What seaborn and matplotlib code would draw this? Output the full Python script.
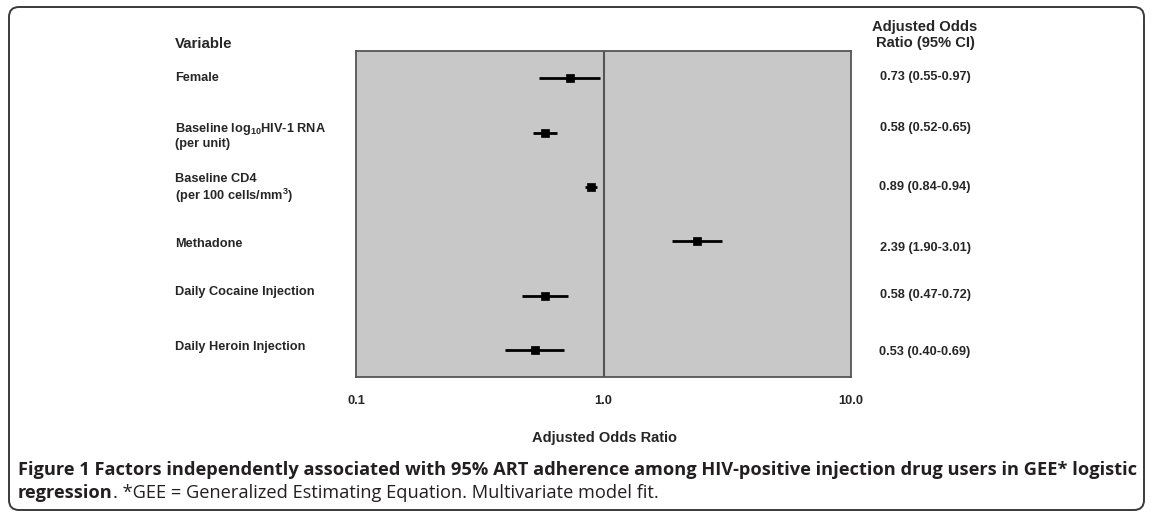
import numpy as np
import pandas as pd
import seaborn as sns
import matplotlib.pyplot as plt
from matplotlib.patches import FancyBboxPatch

variables = ["Female",
             "Baseline log$_{10}$HIV-1 RNA\n(per unit)",
             "Baseline CD4\n(per 100 cells/mm$^{3}$)",
             "Methadone",
             "Daily Cocaine Injection",
             "Daily Heroin Injection"]
odds = [0.73, 0.58, 0.89, 2.39, 0.58, 0.53]
ci_low = [0.55, 0.52, 0.84, 1.90, 0.47, 0.40]
ci_high = [0.97, 0.65, 0.94, 3.01, 0.72, 0.69]
xticks = [0.1, 1.0, 10.0]
xtick_labels = ["0.1", "1.0", "10.0"]

df = pd.DataFrame({"variable": variables, "odds": odds,
                   "low": ci_low, "high": ci_high})
df["row"] = np.arange(1, len(df) + 1)
df["label"] = [f"{o:.2f} ({l:.2f}-{h:.2f})" for o, l, h in zip(odds, ci_low, ci_high)]

# small vertical nudges (px) of the side texts, as in the original layout
label_shift = [0, 3, 2, 3, -4, -3]
value_shift = [-1, -4, 0, 7, -1, 2]

sns.set_style("white")
plt.rcParams["font.family"] = ["Liberation Sans", "DejaVu Sans"]
plt.rcParams["mathtext.default"] = "regular"

W, H = 1155, 522
fig = plt.figure(figsize=(W / 100, H / 100), dpi=100)

# background axes in pixel coordinates for frame and side texts
bg = fig.add_axes([0, 0, 1, 1], zorder=0)
bg.set_xlim(0, W)
bg.set_ylim(H, 0)
bg.axis("off")
bg.add_patch(FancyBboxPatch((9, 7), 1135, 503, boxstyle="round,pad=0,rounding_size=10",
                            fc="none", ec="#3a3a3a", lw=1.4))

ax = fig.add_axes([356 / W, 1 - 377 / H, (851 - 356) / W, (377 - 51) / H], zorder=1)
ax.set_facecolor("#c8c8c8")
ax.set_xscale("log")
ax.set_xlim(0.1, 10)
ax.set_ylim(6.5, 0.5)

ax.axvline(1.0, color="#555555", lw=1.5, zorder=1)
ax.hlines(df["row"], df["low"], df["high"], color="black", lw=2, zorder=2)
sns.scatterplot(data=df, x="odds", y="row", marker="s", s=32, color="black",
                edgecolor="black", linewidth=0.5, ax=ax, zorder=3, legend=False)

ax.set_xticks(xticks)
ax.set_xticklabels(xtick_labels, fontsize=9.3, fontweight="bold")
ax.minorticks_off()
ax.tick_params(axis="x", direction="out", length=4, width=1, color="#555555", pad=9)
ax.set_yticks([])
ax.set_xlabel("")
ax.set_ylabel("")
for s in ax.spines.values():
    s.set_color("#555555")
    s.set_linewidth(1.3)

fig.text(604 / W, 1 - 438 / H, "Adjusted Odds Ratio", ha="center", va="center",
         fontsize=10.5, fontweight="bold")

# left labels and right estimates, aligned with the axes rows
for i, r in df.iterrows():
    y_px = H - ax.transData.transform((1, r["row"]))[1]
    bg.text(175, y_px + label_shift[i], r["variable"], ha="left", va="center",
            fontsize=9.2, fontweight="bold", linespacing=1.15)
    bg.text(925, y_px + value_shift[i], r["label"], ha="center", va="center",
            fontsize=9.2, fontweight="bold")

bg.text(175, 44, "Variable", ha="left", va="center", fontsize=10.8, fontweight="bold")
bg.text(925, 35, "Adjusted Odds\nRatio (95% CI)", ha="center", va="center",
        fontsize=10.6, fontweight="bold", linespacing=1.1)

# caption
cap_color = "#231f20"
cap_font = ["Open Sans", "DejaVu Sans"]
line1 = "Figure 1 Factors independently associated with 95% ART adherence among HIV-positive injection drug users in GEE* logistic"
t1 = bg.text(18, 470, line1, ha="left", va="center", fontsize=12,
             fontweight="bold", family=cap_font, color=cap_color)
fig.canvas.draw()
rend = fig.canvas.get_renderer()
w1 = t1.get_window_extent(rend).width
fs = 12 * (1133 - 18) / w1
t1.set_fontsize(fs)
t2 = bg.text(18, 493, "regression", ha="left", va="center", fontsize=fs,
             fontweight="bold", family=cap_font, color=cap_color)
fig.canvas.draw()
x2 = 18 + t2.get_window_extent(rend).width
bg.text(x2, 493, ". *GEE = Generalized Estimating Equation. Multivariate model fit.",
        ha="left", va="center", fontsize=fs, family=cap_font, color=cap_color)

fig.savefig("out.png", dpi=100)
